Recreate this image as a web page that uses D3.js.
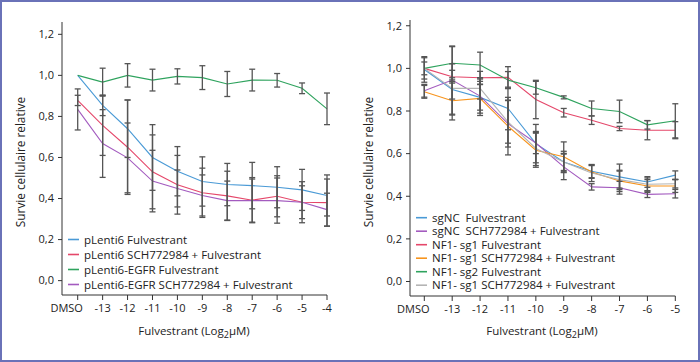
<!DOCTYPE html>
<html>
<head>
<meta charset="utf-8">
<script src="https://cdn.jsdelivr.net/npm/d3@7"></script>
<style>
  body { margin: 0; background: #fff; }
  svg { display: block; font-family: "Open Sans", sans-serif; }
  text { white-space: pre; }
</style>
</head>
<body>
<svg id="chart" width="700" height="362"></svg>
<script>
// ---- left panel data ----
const leftDoses = ["DMSO", "-13", "-12", "-11", "-10", "-9", "-8", "-7", "-6", "-5", "-4"];
const leftNames = [
  "pLenti6 Fulvestrant",
  "pLenti6 SCH772984 + Fulvestrant",
  "pLenti6-EGFR Fulvestrant",
  "pLenti6-EGFR SCH772984 + Fulvestrant"
];
const leftColors = ["#4a9ad6", "#e5476a", "#2fa35e", "#a35bbf"];
const leftValues = [
  [1.0, 0.854, 0.74, 0.60, 0.533, 0.483, 0.468, 0.463, 0.455, 0.442, 0.415],
  [0.878, 0.756, 0.65, 0.53, 0.467, 0.428, 0.413, 0.392, 0.411, 0.382, 0.38],
  [1.0, 0.967, 1.0, 0.977, 0.995, 0.989, 0.958, 0.977, 0.976, 0.937, 0.837],
  [0.834, 0.668, 0.598, 0.485, 0.449, 0.415, 0.39, 0.39, 0.39, 0.382, 0.346]
];
const leftErrors = [
  [0, 0.05, 0.14, 0.16, 0.12, 0.12, 0.103, 0.113, 0.1, 0.1, 0.1],
  [0.025, 0.146, 0.23, 0.18, 0.143, 0.12, 0.12, 0.11, 0.1, 0.1, 0.115],
  [0, 0.068, 0.057, 0.053, 0.037, 0.058, 0.061, 0.053, 0.033, 0.026, 0.077],
  [0.1, 0.165, 0.17, 0.15, 0.09, 0.1, 0.095, 0.105, 0.11, 0.08, 0.08]
];

// ---- right panel data ----
const rightDoses = ["DMSO", "-13", "-12", "-11", "-10", "-9", "-8", "-7", "-6", "-5"];
const rightNames = [
  "sgNC  Fulvestrant",
  "sgNC  SCH772984 + Fulvestrant",
  "NF1- sg1 Fulvestrant",
  "NF1- sg1 SCH772984 + Fulvestrant",
  "NF1- sg2 Fulvestrant",
  "NF1- sg1 SCH772984 + Fulvestrant"
];
const rightColors = ["#4a9ad6", "#a35bbf", "#e5476a", "#f7941d", "#2fa35e", "#b4b4b4"];
const rightValues = [
  [0.995, 0.901, 0.864, 0.812, 0.647, 0.561, 0.517, 0.491, 0.467, 0.499],
  [0.895, 0.945, 0.87, 0.741, 0.65, 0.538, 0.444, 0.44, 0.409, 0.412],
  [1.0, 0.961, 0.956, 0.958, 0.854, 0.792, 0.757, 0.718, 0.71, 0.71],
  [0.89, 0.848, 0.859, 0.729, 0.616, 0.585, 0.514, 0.472, 0.448, 0.448],
  [1.0, 1.024, 1.016, 0.945, 0.909, 0.864, 0.812, 0.798, 0.735, 0.754],
  [1.0, 0.906, 0.906, 0.749, 0.624, 0.561, 0.509, 0.478, 0.456, 0.459]
];
const rightErrors = [
  [0.06, 0.12, 0.06, 0.1, 0.09, 0.04, 0.03, 0.06, 0.025, 0.02],
  [0.03, 0.16, 0.08, 0.11, 0.05, 0.06, 0.015, 0.03, 0.015, 0.02],
  [0.03, 0.03, 0.03, 0.05, 0.09, 0.02, 0.02, 0.01, 0.045, 0.04],
  [0.03, 0.09, 0.08, 0.135, 0.08, 0.07, 0.03, 0.05, 0.03, 0.03],
  [0.05, 0.078, 0.06, 0.04, 0.03, 0.007, 0.035, 0.053, 0.02, 0.08],
  [0, 0.05, 0.05, 0.1, 0.08, 0.05, 0.04, 0.04, 0.03, 0.02]
];

const yTicks = [0, 0.2, 0.4, 0.6, 0.8, 1.0, 1.2];
const fmt = v => d3.format(".1f")(v).replace(".", ",");

const svg = d3.select("#chart");

// outer frame
svg.append("rect")
  .attr("x", 1).attr("y", 1)
  .attr("width", 698).attr("height", 360)
  .attr("fill", "none")
  .attr("stroke", "#6a72b8")
  .attr("stroke-width", 2);

function drawPanel(p) {
  const x = d3.scalePoint().domain(p.doses).range(p.xRange);
  const y = d3.scaleLinear().domain(p.yDomain).range(p.yRange);
  const g = svg.append("g");

  // y axis
  g.append("line")
    .attr("x1", p.axisX).attr("x2", p.axisX)
    .attr("y1", p.yRange[1]).attr("y2", p.yRange[0])
    .attr("stroke", "#333").attr("stroke-width", 1);
  yTicks.forEach(t => {
    g.append("line")
      .attr("x1", p.axisX - 4).attr("x2", p.axisX)
      .attr("y1", y(t)).attr("y2", y(t))
      .attr("stroke", "#333");
    g.append("text")
      .attr("x", p.axisX - 8).attr("y", y(t))
      .attr("dy", "0.35em")
      .attr("text-anchor", "end")
      .attr("font-size", 11)
      .attr("fill", "#222")
      .text(fmt(t));
  });

  // x axis
  g.append("line")
    .attr("x1", p.axisX).attr("x2", p.xRange[1])
    .attr("y1", p.yRange[0]).attr("y2", p.yRange[0])
    .attr("stroke", "#333");
  p.doses.forEach(d => {
    g.append("line")
      .attr("x1", x(d)).attr("x2", x(d))
      .attr("y1", p.yRange[0]).attr("y2", p.yRange[0] + 5)
      .attr("stroke", "#333");
    g.append("text")
      .attr("x", d === "DMSO" ? x(d) - 11 : x(d)).attr("y", p.yRange[0] + 17)
      .attr("text-anchor", "middle")
      .attr("font-size", 11)
      .attr("fill", "#222")
      .text(d);
  });

  // axis titles
  const xt = g.append("text")
    .attr("x", p.xTitleX).attr("y", 335)
    .attr("text-anchor", "middle")
    .attr("font-size", 11.5)
    .attr("fill", "#222");
  xt.append("tspan").text("Fulvestrant (Log");
  xt.append("tspan").attr("font-size", 9).attr("dy", 3).text("2");
  xt.append("tspan").attr("dy", -3).text("µM)");

  g.append("text")
    .attr("transform", `translate(${p.yTitleX},162) rotate(-90)`)
    .attr("text-anchor", "middle")
    .attr("font-size", 11.8)
    .attr("fill", "#222")
    .text("Survie cellulaire relative");

  // series lines
  const line = d3.line()
    .x((v, i) => x(p.doses[i]))
    .y(v => y(v));
  p.values.forEach((vals, s) => {
    g.append("path")
      .datum(vals)
      .attr("d", line)
      .attr("fill", "none")
      .attr("stroke", p.colors[s])
      .attr("stroke-width", 1.1);
  });

  // error bars
  p.values.forEach((vals, s) => {
    vals.forEach((v, i) => {
      const e = p.errors[s][i];
      if (!e) return;
      const cx = x(p.doses[i]);
      const eg = g.append("g").attr("stroke", "#555").attr("stroke-width", 1.3);
      eg.append("line").attr("x1", cx).attr("x2", cx).attr("y1", y(v + e)).attr("y2", y(v - e));
      eg.append("line").attr("x1", cx - 3).attr("x2", cx + 3).attr("y1", y(v + e)).attr("y2", y(v + e));
      eg.append("line").attr("x1", cx - 3).attr("x2", cx + 3).attr("y1", y(v - e)).attr("y2", y(v - e));
    });
  });

  // legend
  p.names.forEach((n, s) => {
    const ly = p.legendY + s * p.legendStep;
    g.append("line")
      .attr("x1", p.legendX).attr("x2", p.legendX + 11)
      .attr("y1", ly).attr("y2", ly)
      .attr("stroke", p.colors[s]).attr("stroke-width", 1.6);
    g.append("text")
      .attr("x", p.legendX + 16).attr("y", ly)
      .attr("dy", "0.35em")
      .attr("font-size", p.legendSize)
      .attr("fill", "#222")
      .text(n);
  });
}

drawPanel({
  doses: leftDoses, names: leftNames, colors: leftColors,
  values: leftValues, errors: leftErrors,
  xRange: [77.7, 327], yDomain: [-0.07, 1.26], yRange: [295, 22],
  axisX: 62, xTitleX: 194, yTitleX: 25,
  legendX: 68, legendY: 239.5, legendStep: 15, legendSize: 11.5
});

drawPanel({
  doses: rightDoses, names: rightNames, colors: rightColors,
  values: rightValues, errors: rightErrors,
  xRange: [424.3, 675.3], yDomain: [-0.068, 1.227], yRange: [296, 20],
  axisX: 410, xTitleX: 542, yTitleX: 373,
  legendX: 416, legendY: 217.7, legendStep: 13.5, legendSize: 11.5
});
</script>
</body>
</html>
